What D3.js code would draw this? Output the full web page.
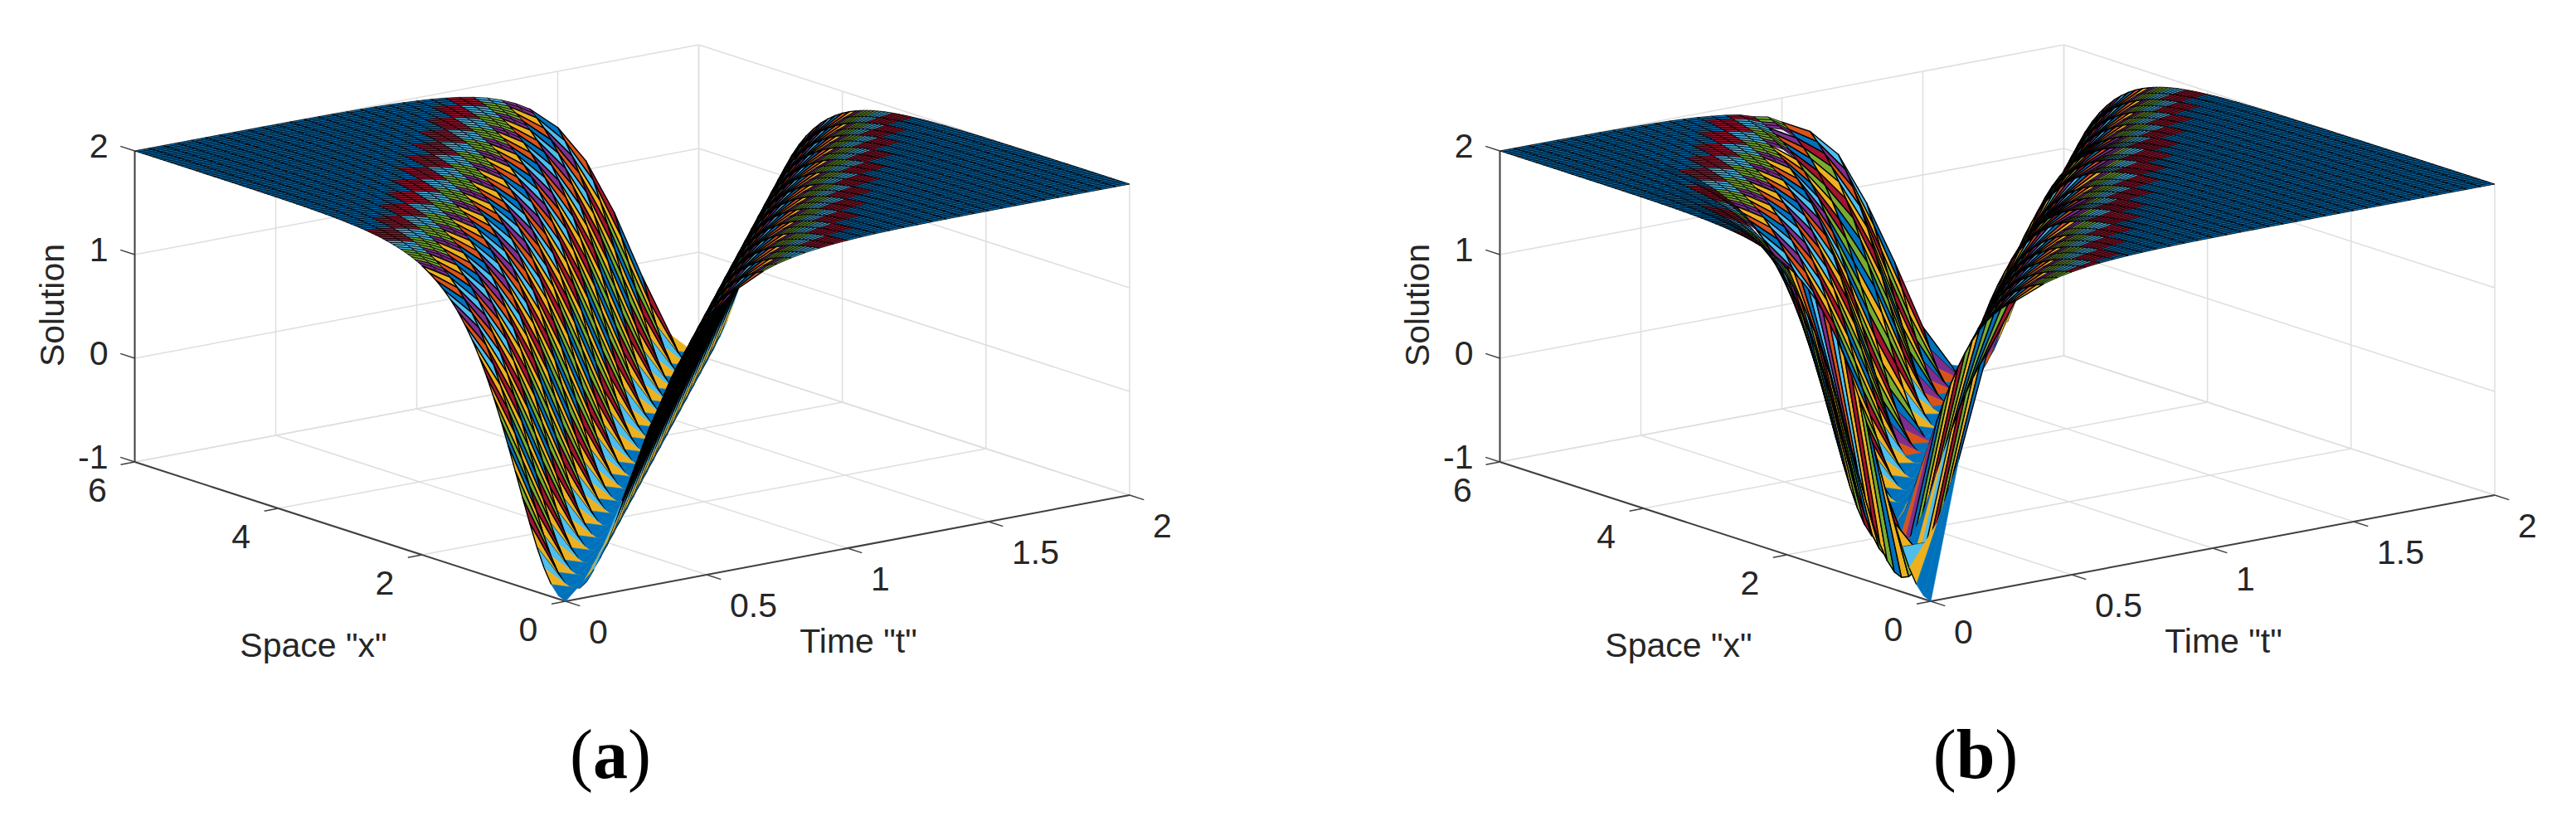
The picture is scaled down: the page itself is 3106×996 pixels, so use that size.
<!DOCTYPE html>
<html lang="en">
<head>
<meta charset="utf-8">
<title>Solution surfaces</title>
<script src="https://d3js.org/d3.v7.min.js"></script>
<style>
body{ margin:0; background:#fff; }
svg text{ font-family:"Liberation Sans",sans-serif; fill:#262626; }
</style>
</head>
<body>
<div id="chart"></div>
<script>
var timeTicks = [0, 0.5, 1, 1.5, 2];
var spaceTicks = [0, 2, 4, 6];
var solutionTicks = [-1, 0, 1, 2];
var timeGrid = d3.range(0, 41).map(function(d){ return d / 20; });
var spaceGrid = d3.range(0, 121).map(function(d){ return d / 20; });
// solution read along the wave, one entry per 0.05 of distance from the trough
var waveProfile = [-1, -0.9925, -0.97, -0.933, -0.883, -0.82, -0.745, -0.66, -0.567, -0.466,
  -0.359, -0.248, -0.135, -0.02, 0.096, 0.21, 0.323, 0.433, 0.539, 0.642,
  0.74, 0.834, 0.922, 1.006, 1.085, 1.159, 1.228, 1.292, 1.352, 1.407,
  1.458, 1.505, 1.548, 1.588, 1.625, 1.659, 1.689, 1.717, 1.743, 1.767,
  1.788, 1.808, 1.825, 1.842, 1.856, 1.87, 1.882, 1.893, 1.903, 1.912,
  1.92, 1.928, 1.935, 1.941, 1.946, 1.951, 1.956, 1.96, 1.964, 1.967,
  1.97, 1.973, 1.976, 1.978, 1.98, 1.982, 1.984, 1.985, 1.987, 1.988,
  1.989, 1.99, 1.991, 1.992, 1.993, 1.993, 1.994, 1.995, 1.995, 1.996,
  1.996, 1.996, 1.997, 1.997, 1.997, 1.997, 1.998, 1.998, 1.998, 1.998,
  1.998, 1.999, 1.999, 1.999, 1.999, 1.999, 1.999, 1.999, 1.999, 1.999,
  1.999, 1.999, 2, 2, 2, 2, 2, 2, 2, 2, 2, 2, 2, 2, 2, 2, 2, 2, 2, 2, 2];
// trough position for each time step, in the same 0.05 steps
var troughA = [0, 3, 6, 9, 12, 15, 18, 21, 24, 27, 30, 33, 36, 39, 42, 45, 48, 51, 54, 57, 60,
  63, 66, 69, 72, 75, 78, 81, 84, 87, 90, 93, 96, 99, 102, 105, 108, 111, 114, 117, 120];
var troughB = [0, 8, 16, 22, 27, 32, 38, 41, 44, 47, 50, 53, 56, 59, 62, 65, 68, 71, 75, 77, 81,
  83, 86, 89, 92, 95, 99, 101, 105, 107, 111, 113, 116, 119, 122, 125, 128, 131, 134, 137, 140];
var colormap = ["#0072bd", "#d95319", "#edb120", "#7e2f8e", "#77ac30", "#4dbeee", "#a2142f"];

var svg = d3.select("#chart").append("svg").attr("width", 3106).attr("height", 996);

function drawPanel(front, caption, captionX, trough){
  var g = svg.append("g");
  var tx = d3.scaleLinear().domain([0, 2]).range([0, 680]);
  var ty = d3.scaleLinear().domain([0, 2]).range([0, -128]);
  var sx = d3.scaleLinear().domain([0, 6]).range([0, -519.5]);
  var sy = d3.scaleLinear().domain([0, 6]).range([0, -168]);
  var zy = d3.scaleLinear().domain([-1, 2]).range([0, -375]);
  function project(t, x, z){
    return [front[0] + tx(t) + sx(x), front[1] + ty(t) + sy(x) + zy(z)];
  }
  function seg(a, b, color, w){
    g.append("line").attr("x1", a[0]).attr("y1", a[1]).attr("x2", b[0]).attr("y2", b[1])
      .attr("stroke", color).attr("stroke-width", w);
  }
  function distance(i, j){
    return Math.min(waveProfile.length - 1, Math.abs(i - trough[j]));
  }
  var gridColor = "#dedede";
  // floor and back walls
  timeTicks.forEach(function(t){
    seg(project(t, 0, -1), project(t, 6, -1), gridColor, 1.5);
    seg(project(t, 6, -1), project(t, 6, 2), gridColor, 1.5);
  });
  spaceTicks.forEach(function(x){
    seg(project(0, x, -1), project(2, x, -1), gridColor, 1.5);
    seg(project(2, x, -1), project(2, x, 2), gridColor, 1.5);
  });
  solutionTicks.forEach(function(z){
    seg(project(0, 6, z), project(2, 6, z), gridColor, 1.5);
    seg(project(2, 6, z), project(2, 0, z), gridColor, 1.5);
  });
  // axes
  var axisColor = "#404040";
  seg(project(0, 0, -1), project(2, 0, -1), axisColor, 2);
  seg(project(0, 0, -1), project(0, 6, -1), axisColor, 2);
  seg(project(0, 6, -1), project(0, 6, 2), axisColor, 2);
  timeTicks.forEach(function(t){
    var p = project(t, 0, -1);
    seg(p, project(t, -0.2, -1), axisColor, 1.5);
    g.append("text").attr("x", p[0] + 28).attr("y", p[1] + 51)
      .attr("font-size", 41).attr("text-anchor", "start").text(t);
  });
  spaceTicks.forEach(function(x){
    var p = project(0, x, -1);
    seg(p, project(-0.05, x, -1), axisColor, 1.5);
    g.append("text").attr("x", p[0] - 45).attr("y", p[1] + 48)
      .attr("font-size", 41).attr("text-anchor", "middle").text(x);
  });
  solutionTicks.forEach(function(z){
    var p = project(0, 6, z);
    seg(p, project(0, 6.2, z), axisColor, 1.5);
    g.append("text").attr("x", p[0] - 32).attr("y", p[1] + 8)
      .attr("font-size", 41).attr("text-anchor", "end").text(z);
  });
  g.append("text").attr("x", front[0] - 304).attr("y", front[1] + 67).attr("font-size", 41)
    .attr("text-anchor", "middle").text('Space "x"');
  g.append("text").attr("x", front[0] + 353).attr("y", front[1] + 62).attr("font-size", 41)
    .attr("text-anchor", "middle").text('Time "t"');
  g.append("text").attr("transform", "translate(" + (front[0] - 605) + "," + (front[1] - 357) + ") rotate(-90)")
    .attr("font-size", 41).attr("text-anchor", "middle").text("Solution");
  g.append("text").attr("x", captionX).attr("y", 938).attr("font-size", 84)
    .attr("text-anchor", "middle").style("font-family", "Liberation Serif").style("fill", "#000")
    .html('(<tspan font-weight="bold">' + caption + '</tspan>)');

  // surface, far cells first. Steep part uses the coarse mesh, the plateau is split once more
  var cells = [];
  for(var i = spaceGrid.length - 3; i >= 0; i -= 2){
    for(var j = timeGrid.length - 3; j >= 0; j -= 2){
      var d = distance(i, j);
      if(d >= 40){
        [[1, 1], [1, 0], [0, 1], [0, 0]].forEach(function(o){
          cells.push({i: i + o[0], j: j + o[1], n: 1, d: d, edge: false});
        });
      } else {
        cells.push({i: i, j: j, n: 2, d: d, edge: false});
        if(d <= 6 && d >= 3) cells.push({i: i, j: j, n: 2, d: d, edge: true});
      }
    }
  }
  function node(i, j){
    return project(timeGrid[j], spaceGrid[i], waveProfile[distance(i, j)]);
  }
  var colorIndex = d3.scaleQuantize().domain([-1, 2]).range(d3.range(64));
  function cellColor(c){ return colormap[colorIndex(waveProfile[c.d]) % 7]; }
  g.append("g").selectAll("path").data(cells).enter().append("path")
    .attr("d", function(c){
      var n = c.n;
      if(c.edge) return "M" + node(c.i, c.j) + "L" + node(c.i + n, c.j);
      return "M" + [node(c.i, c.j), node(c.i + n, c.j), node(c.i + n, c.j + n), node(c.i, c.j + n)].join("L") + "Z";
    })
    .attr("fill", function(c){ return c.edge ? "none" : cellColor(c); })
    .attr("stroke", function(c){ return c.edge || c.d > 6 ? "#000" : cellColor(c); })
    .attr("stroke-width", function(c){
      if(c.edge || c.d > 6) return c.n == 1 ? 0.85 : 1.4;
      return 0.6;
    })
    .attr("stroke-linejoin", "round");
}

drawPanel([682, 725], "a", 736, troughA);
drawPanel([2328, 725], "b", 2382, troughB);
</script>
</body>
</html>
